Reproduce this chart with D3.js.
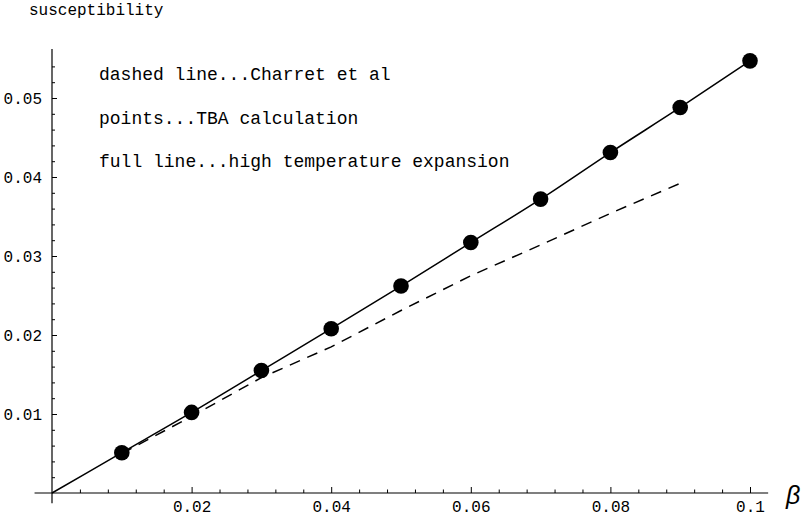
<!DOCTYPE html>
<html>
<head>
<meta charset="utf-8">
<script src="https://cdn.jsdelivr.net/npm/d3@7"></script>
<style>
  html, body { margin: 0; padding: 0; background: #fff; }
  svg { display: block; }
  text { font-family: "Liberation Mono", "Courier New", monospace; fill: #000; }
</style>
</head>
<body>
<svg id="chart" width="806" height="520"></svg>
<script>
// ---- data ----
const betaPoints = [0.01, 0.02, 0.03, 0.04, 0.05, 0.06, 0.07, 0.08, 0.09, 0.1];
const tbaValues = [0.0051, 0.0102, 0.0155, 0.0208, 0.0262, 0.0317, 0.0372, 0.0431, 0.0488, 0.0547];
const htBeta = [0, 0.01, 0.02, 0.03, 0.04, 0.05, 0.06, 0.07, 0.08, 0.09, 0.1];
const htValues = [0, 0.0051, 0.0102, 0.0155, 0.0208, 0.0262, 0.0317, 0.0372, 0.0431, 0.0488, 0.0547];
const charretBeta = [0.01, 0.02, 0.03, 0.04, 0.05, 0.06, 0.07, 0.08, 0.09];
const charretValues = [0.0050, 0.0097, 0.0146, 0.0185, 0.0231, 0.0275, 0.0314, 0.0354, 0.0392];
const xTickValues = [0.02, 0.04, 0.06, 0.08, 0.1];
const xTickLabels = ["0.02", "0.04", "0.06", "0.08", "0.1"];
const yTickValues = [0.01, 0.02, 0.03, 0.04, 0.05];
const yTickLabels = ["0.01", "0.02", "0.03", "0.04", "0.05"];
const legendLines = [
  "dashed line...Charret et al",
  "points...TBA calculation",
  "full line...high temperature expansion"
];
const yTitle = "susceptibility";
const xTitle = "\u03B2";

// ---- layout ----
const svg = d3.select("#chart");
const x = d3.scaleLinear().domain([0, 0.1]).range([52, 750]);
const y = d3.scaleLinear().domain([0, 0.05]).range([493, 98]);

// minor tick values
const xMinor = d3.range(1, 26).map(i => +(i * 0.004).toFixed(3)).filter(v => !xTickValues.some(t => Math.abs(t - v) < 1e-9));
const yMinor = d3.range(1, 28).map(i => +(i * 0.002).toFixed(3)).filter(v => v <= 0.0555 && !yTickValues.some(t => Math.abs(t - v) < 1e-9));

// axis lines
svg.append("line")
  .attr("x1", x(-0.0025)).attr("x2", x(0.1026))
  .attr("y1", y(0)).attr("y2", y(0))
  .attr("stroke", "#000").attr("stroke-width", 1.2);
svg.append("line")
  .attr("x1", x(0)).attr("x2", x(0))
  .attr("y1", y(-0.0013)).attr("y2", y(0.0562))
  .attr("stroke", "#000").attr("stroke-width", 1.2);

// x axis ticks
const gx = svg.append("g").attr("transform", `translate(0,${y(0)})`);
gx.call(d3.axisBottom(x).tickValues(xTickValues).tickSize(-6)
  .tickFormat((d, i) => xTickLabels[i]));
gx.select(".domain").remove();
gx.selectAll("text").attr("y", 19).attr("dy", 0)
  .style("font-family", '"Liberation Mono", monospace').style("font-size", "16px");
gx.selectAll("line").attr("stroke-width", 1);
const gxm = svg.append("g").attr("transform", `translate(0,${y(0)})`);
gxm.call(d3.axisBottom(x).tickValues(xMinor).tickSize(-3.5).tickFormat(""));
gxm.select(".domain").remove();
gxm.selectAll("line").attr("stroke-width", 1);

// y axis ticks
const gy = svg.append("g").attr("transform", `translate(${x(0)},0)`);
gy.call(d3.axisLeft(y).tickValues(yTickValues).tickSize(-5).tickPadding(10)
  .tickFormat((d, i) => yTickLabels[i]));
gy.select(".domain").remove();
gy.selectAll("text")
  .style("font-family", '"Liberation Mono", monospace').style("font-size", "16px");
gy.selectAll("line").attr("stroke-width", 1);
const gym = svg.append("g").attr("transform", `translate(${x(0)},0)`);
gym.call(d3.axisLeft(y).tickValues(yMinor).tickSize(-3).tickFormat(""));
gym.select(".domain").remove();
gym.selectAll("line").attr("stroke-width", 1);

// full line (high temperature expansion)
const line = d3.line().x(d => x(d[0])).y(d => y(d[1])).curve(d3.curveMonotoneX);
svg.append("path")
  .datum(htBeta.map((b, i) => [b, htValues[i]]))
  .attr("d", line)
  .attr("fill", "none").attr("stroke", "#000").attr("stroke-width", 1.5);

// dashed line (Charret et al)
svg.append("path")
  .datum(charretBeta.map((b, i) => [b, charretValues[i]]))
  .attr("d", d3.line().x(d => x(d[0])).y(d => y(d[1])))
  .attr("fill", "none").attr("stroke", "#000").attr("stroke-width", 1.5)
  .attr("stroke-dasharray", "11,8");

// points (TBA calculation)
svg.append("g").selectAll("circle")
  .data(betaPoints.map((b, i) => [b, tbaValues[i]]))
  .join("circle")
  .attr("cx", d => x(d[0])).attr("cy", d => y(d[1]))
  .attr("r", 7.8).attr("fill", "#000");

// legend text
svg.append("g").selectAll("text")
  .data(legendLines)
  .join("text")
  .attr("x", 99).attr("y", (d, i) => 80 + i * 43.5)
  .style("font-size", "18px")
  .text(d => d);

// axis titles
svg.append("text").attr("x", 29).attr("y", 15)
  .style("font-size", "16px").text(yTitle);
svg.append("text").attr("x", 786).attr("y", 504)
  .style("font-family", '"Liberation Sans", "DejaVu Sans", sans-serif')
  .style("font-style", "italic").style("font-size", "25px")
  .text(xTitle);
</script>
</body>
</html>
